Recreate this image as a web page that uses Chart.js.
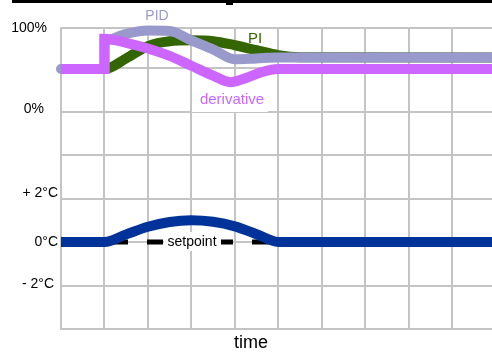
<!DOCTYPE html>
<html>
<head>
<meta charset="utf-8">
<script src="https://cdn.jsdelivr.net/npm/chart.js@4"></script>
<style>
  html, body { margin: 0; padding: 0; background: #fff; }
  canvas { display: block; }
</style>
</head>
<body>
<canvas id="chart" width="492" height="353"></canvas>
<script>
// time axis in grid cells
const pidTime = [0, 1, 1, 1.5, 2, 2.5, 3, 3.5, 4, 4.5, 5, 9.92]
const pidOutput = [50, 50, 85, 93, 97, 96.5, 85, 74, 62, 63, 64, 64]          // %

const piTime = [0, 1, 1.5, 2, 2.5, 3, 3.5, 4, 4.5, 5, 5.5, 9.92]
const piOutput = [50, 50, 63, 78, 84, 85, 84, 79, 73, 67, 64.5, 64]           // %

const derivTime = [0, 1, 1, 1.5, 2, 2.5, 3, 3.5, 3.9, 4.2, 4.6, 5, 9.92]
const derivOutput = [50, 50, 87, 82, 75, 66, 54, 42, 34, 38, 46, 50, 50]     // %

const tempTime = [0, 1, 1.5, 2, 2.5, 3, 3.5, 4, 4.5, 5, 9.92]
const tempDeviation = [0, 0, 0.35, 0.7, 0.92, 1.0, 0.93, 0.72, 0.36, 0, 0]  // degC

const setpointTime = [0, 9.92]
const setpointValue = [0, 0]

const xGrid = [0, 1, 2, 3, 4, 5, 6, 7, 8, 9]
const yGrid = [0, 1, 2, 3, 4, 5, 6, 6.92]
const yLabels = ['100%', '0%', '+ 2°C', '0°C', '- 2°C']

// both panels share one vertical scale measured in grid cells
const pctToY = p => 5.034 + p * 0.01885
const degToY = d => 2 + d / 2
const yLabelValues = [pctToY(100), pctToY(0), degToY(2), degToY(0), degToY(-2)]

const pts = (xs, ys, f) => xs.map((x, i) => ({ x: x, y: f(ys[i]) }))

const FONT = '"Liberation Sans", Arial, Helvetica, sans-serif'
const GRID = '#c4c4c4'

const line = (data, color, width, extra) => Object.assign({
    data: data,
    borderColor: color,
    borderWidth: width,
    pointRadius: 0,
    cubicInterpolationMode: 'monotone',
    clip: false,
    fill: false
}, extra || {})

const annotate = {
    id: 'annotate',
    beforeDatasetsDraw(chart) {
        const c = chart.ctx
        c.save()
        c.fillStyle = '#fff'
        c.fillRect(192, 84, 76, 28)   // behind "derivative"
        c.restore()
    },
    afterDatasetDraw(chart, args) {
        if (args.index !== 4) return
        const c = chart.ctx
        const y = chart.scales.y.getPixelForValue(degToY(0))
        c.save()
        c.fillStyle = '#fff'
        c.fillRect(164, y - 10, 57, 19)
        c.fillStyle = '#000'
        c.font = '14px ' + FONT
        c.textAlign = 'center'
        c.textBaseline = 'middle'
        c.fillText('setpoint', 192, y)
        c.restore()
    },
    afterDraw(chart) {
        const c = chart.ctx
        const ys = chart.scales.y
        c.save()
        // cut-off rule at the very top
        c.fillStyle = '#000'
        c.fillRect(12, 0, 480, 3)
        c.fillRect(226, 2, 7, 3)

        c.textBaseline = 'middle'
        c.font = '14px ' + FONT
        c.fillStyle = '#000'
        c.textAlign = 'right'
        const rightEdge = [47, 44, 58, 58, 54]
        const dy = [0, -1, -5, 0, -1]
        yLabels.forEach((t, i) => {
            c.fillText(t, rightEdge[i], ys.getPixelForValue(yLabelValues[i]) + dy[i])
        })

        c.textAlign = 'center'
        c.fillStyle = '#9999cc'
        c.fillText('PID', 157, 16)
        c.fillStyle = '#336600'
        c.font = '15px ' + FONT
        c.fillText('PI', 255, 39)
        c.fillStyle = '#cc66ff'
        c.fillText('derivative', 232, 100)

        c.fillStyle = '#000'
        c.font = '18px ' + FONT
        c.fillText('time', 251, 343)
        c.restore()
    }
}

const ctx = document.getElementById('chart').getContext('2d')
new Chart(ctx, {
    type: 'line',
    data: {
        datasets: [
            line(pts(tempTime, tempDeviation, degToY), '#003399', 10),
            line(pts(derivTime, derivOutput, pctToY), '#cc66ff', 10),
            line(pts(pidTime, pidOutput, pctToY), '#9999cc', 10, { borderCapStyle: 'round' }),
            line(pts(piTime, piOutput, pctToY), '#336600', 10),
            line(pts(setpointTime, setpointValue, degToY), '#000', 5,
                { borderDash: [16, 19], borderDashOffset: 19, cubicInterpolationMode: 'default', tension: 0 })
        ]
    },
    options: {
        responsive: false,
        animation: false,
        layout: { padding: { top: 28, left: 0, right: 0, bottom: 0 } },
        plugins: { legend: { display: false }, tooltip: { enabled: false } },
        scales: {
            x: {
                type: 'linear', min: 0, max: 9.92,
                afterBuildTicks: s => { s.ticks = xGrid.map(v => ({ value: v })) },
                afterFit: s => { s.height = 24 },
                ticks: { display: false },
                grid: { color: GRID, lineWidth: 2, drawTicks: false },
                border: { color: GRID, width: 2 }
            },
            y: {
                type: 'linear', min: 0, max: 6.92,
                afterBuildTicks: s => { s.ticks = yGrid.map(v => ({ value: v })) },
                afterFit: s => { s.width = 61 },
                ticks: { display: false },
                grid: { color: GRID, lineWidth: 2, drawTicks: false },
                border: { color: GRID, width: 2 }
            }
        }
    },
    plugins: [annotate]
})
</script>
</body>
</html>
